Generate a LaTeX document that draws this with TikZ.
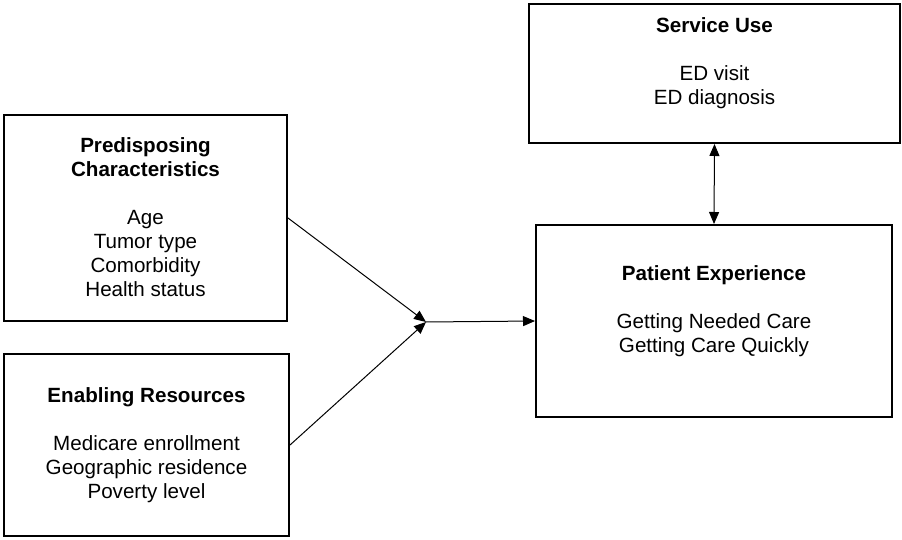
\documentclass[tikz,border=0pt]{standalone}
\usepackage{fontspec}
\setmainfont{Liberation Sans}
\usetikzlibrary{arrows.meta}
\begin{document}
\begin{tikzpicture}[x=1pt,y=-1pt,
  box/.style={draw=black,line width=2pt,rectangle,inner sep=0pt},
  txt/.style={align=center,inner sep=0pt,font=\fontsize{20.6pt}{24pt}\selectfont},
  arr/.style={line width=1pt,-{Triangle[length=12pt,width=10pt]}},
  darr/.style={line width=1pt,{Triangle[length=12pt,width=10pt]}-{Triangle[length=12pt,width=10pt]}}]
\useasboundingbox (0,0) rectangle (902,540);
\node[box,minimum width=283pt,minimum height=206pt] (pre) at (145.5,218) {};
\node[box,minimum width=285pt,minimum height=182pt] (ena) at (146.5,445) {};
\node[box,minimum width=371pt,minimum height=139pt] (ser) at (714.5,73.5) {};
\node[box,minimum width=356pt,minimum height=192pt] (pat) at (714,321) {};
\node[txt] (pretxt) at (145.5,217.5) {\textbf{Predisposing}\\\textbf{Characteristics}\\[24pt]Age\\Tumor type\\Comorbidity\\Health status};
\node[txt] (enatxt) at (146.5,445) {\textbf{Enabling Resources}\\[24pt]Medicare enrollment\\Geographic residence\\Poverty level};
\node[txt] (sertxt) at (714.5,63.5) {\textbf{Service Use}\\[24pt]ED visit\\ED diagnosis};
\node[txt] (pattxt) at (714,311) {\textbf{Patient Experience}\\[24pt]Getting Needed Care\\Getting Care Quickly};
\coordinate (J) at (426,322);
\draw[arr] (pre.east) -- (J);
\draw[arr] (ena.east) -- (J);
\draw[arr] (J) -- (pat.west);
\draw[darr] (ser.south) -- (pat.north);
\end{tikzpicture}
\end{document}
